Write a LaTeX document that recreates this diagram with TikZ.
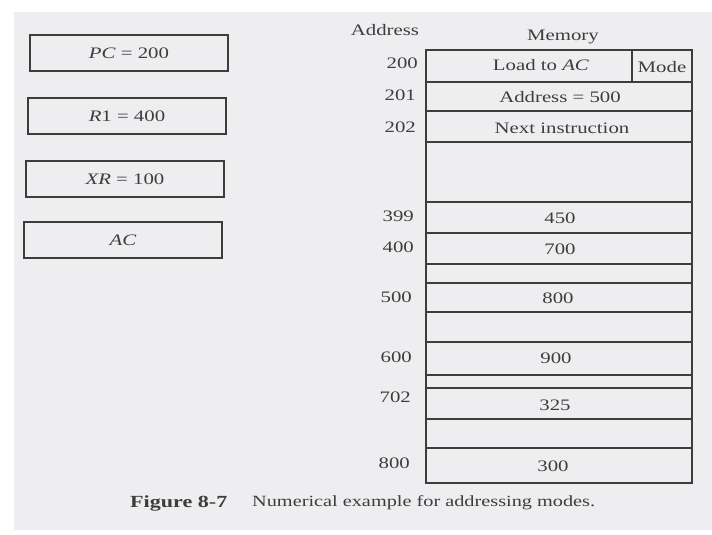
\documentclass[tikz,border=0pt]{standalone}
\usepackage{fontspec}
\setmainfont{Liberation Serif}[FakeStretch=1.3]
\definecolor{ink}{RGB}{60,62,60}
\definecolor{paper}{RGB}{238,238,240}
\begin{document}
\begin{tikzpicture}[x=1pt,y=-1pt,
  txt/.style={font=\fontsize{16}{19}\selectfont, text=ink, inner sep=0pt, anchor=center},
  reg/.style={draw=ink, line width=1.4pt, minimum width=198pt, minimum height=36pt, inner sep=0pt,
    font=\fontsize{16}{19}\selectfont, text=ink},
  cell/.style={draw=ink, line width=1.3pt},
  adr/.style={font=\fontsize{16}{19}\selectfont, text=ink, inner sep=0pt, anchor=east}]
\useasboundingbox (0,0) rectangle (712,535);
\fill[white] (0,0) rectangle (712,535);
\fill[paper] (14,12) rectangle (712,530);

% registers
\node[reg] (pc) at (129,53) {\textit{PC} = 200};
\node[reg] (r1) at (127,116) {\textit{R}1 = 400};
\node[reg] (xr) at (125,179) {\textit{XR} = 100};
\node[reg] (ac) at (123,240) {\textit{AC}};

% headers
\node[txt] (haddr) at (385,30) {Address};
\node[txt] (hmem) at (563,37) {Memory};

% memory outline
\coordinate (mtl) at (426,50);
\coordinate (mbr) at (692,483);
\draw[cell] (mtl) rectangle (mbr);
% row lines
\foreach \y in {82,111,142,202,233,264,283,312,342,375,388,419,448}
  \draw[cell] (426,\y) -- (692,\y);
% mode box
\draw[cell] (632,50) -- (632,82);

% cell contents
\node[txt] (c200) at (541,65) {Load to \textit{AC}};
\node[txt] (cmode) at (662,67) {Mode};
\node[txt] (c201) at (560,97) {Address = 500};
\node[txt] (c202) at (562,128) {Next instruction};
\node[txt] (c399) at (560,218) {450};
\node[txt] (c400) at (560,249) {700};
\node[txt] (c500) at (558,298) {800};
\node[txt] (c600) at (556,358) {900};
\node[txt] (c702) at (555,405) {325};
\node[txt] (c800) at (553,466) {300};

% addresses
\node[adr] (a200) at (418,63) {200};
\node[adr] (a201) at (416,95) {201};
\node[adr] (a202) at (416,127) {202};
\node[adr] (a399) at (414,216) {399};
\node[adr] (a400) at (414,247) {400};
\node[adr] (a500) at (412,297) {500};
\node[adr] (a600) at (412,357) {600};
\node[adr] (a702) at (411,397) {702};
\node[adr] (a800) at (410,463) {800};

% caption
\node[txt, anchor=west, font=\fontsize{17}{20}\selectfont\bfseries] (capfig) at (130,503) {Figure 8-7};
\node[txt, anchor=west, font=\fontsize{15.6}{19}\selectfont] (captext) at (252,503) {Numerical example for addressing modes.};
\end{tikzpicture}
\end{document}
